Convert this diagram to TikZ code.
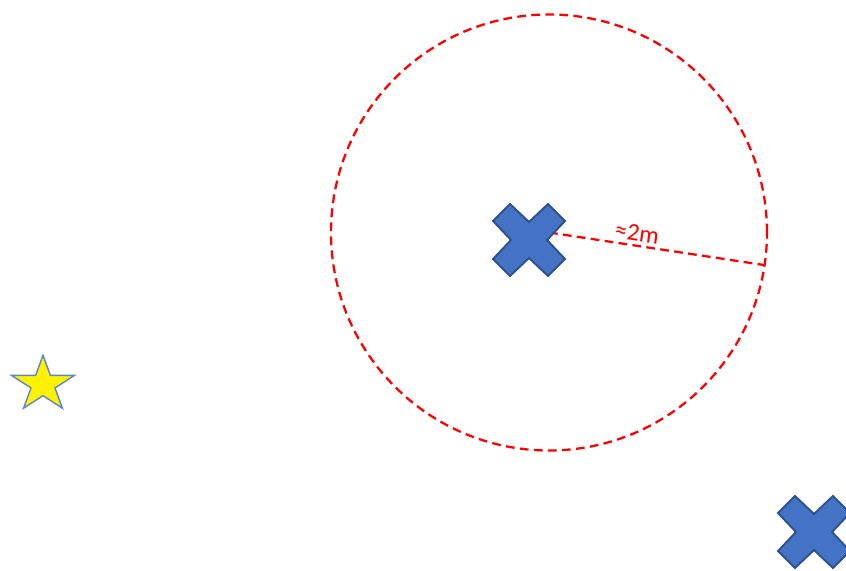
\documentclass[tikz,border=0pt]{standalone}
\usepackage{fontspec}
\newfontfamily\labelfont{Carlito}
\usepackage{tikz}
\definecolor{crossblue}{HTML}{4472C4}
\definecolor{crossedge}{HTML}{2F528F}
\definecolor{staredge}{HTML}{5B85CF}

\begin{document}
\begin{tikzpicture}[line cap=butt,
  crossmark/.style={fill=crossblue,draw=crossedge,line width=1.1pt,line join=miter},
  zone/.style={red,line width=1.3pt,dash pattern=on 5pt off 3pt},
  landmark/.style={fill=yellow,draw=staredge,line width=0.8pt,line join=miter}]
\useasboundingbox (0,0) rectangle (16.92,11.4);
\coordinate (zonecenter) at (10.98,6.75);
\coordinate (cross1) at (10.58,6.6);
\coordinate (cross2) at (16.28,0.76);
\coordinate (start) at (0.86,3.71);
\coordinate (rim) at ([shift={(-8.6:4.36)}]zonecenter);
% range circle and radius
\draw[zone] (zonecenter) circle (4.36);
\draw[zone] (zonecenter) -- (rim) node[pos=0.4,above=-1.5pt,sloped,font=\labelfont\fontsize{14}{16}\selectfont]{≈2m};
% crosses
\begin{scope}
\clip (0,0) rectangle (16.92,11.4);
\foreach \c in {cross1,cross2}
  \draw[crossmark,shift={(\c)}] (-0.72,0.38) -- (-0.38,0.72) -- (0,0.36) -- (0.38,0.72) -- (0.72,0.38) -- (0.36,0)
    -- (0.72,-0.38) -- (0.38,-0.72) -- (0,-0.36) -- (-0.38,-0.72) -- (-0.72,-0.38) -- (-0.36,0) -- cycle;
\end{scope}
% star
\draw[landmark,shift={(start)},xscale=0.66,yscale=0.586] (90:1) -- (126:0.382) -- (162:1) -- (198:0.382) -- (234:1)
  -- (270:0.382) -- (306:1) -- (342:0.382) -- (18:1) -- (54:0.382) -- cycle;
\end{tikzpicture}
\end{document}
